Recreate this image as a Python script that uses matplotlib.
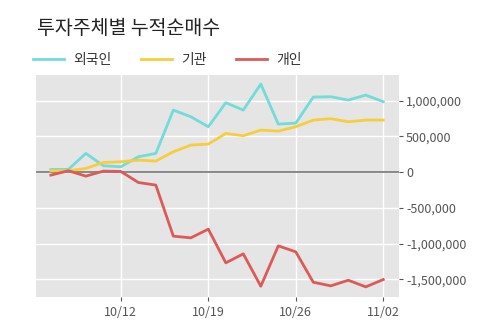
import matplotlib.pyplot as plt
from matplotlib.ticker import FuncFormatter

plt.rcParams['font.family'] = ['Noto Sans CJK KR', 'DejaVu Sans']

# trading days 10/5 ~ 11/2 (10/9 holiday)
dates = ["10/05", "10/06", "10/07", "10/08", "10/12", "10/13", "10/14", "10/15", "10/16",
         "10/19", "10/20", "10/21", "10/22", "10/23", "10/26", "10/27", "10/28", "10/29",
         "10/30", "11/02"]
foreign = [38000, 38000, 262000, 89000, 75000, 215000, 262000, 868000, 775000, 635000,
           971000, 868000, 1232000, 672000, 686000, 1050000, 1055000, 1008000, 1078000, 985000]
institution = [19000, 19000, 51000, 135000, 145000, 168000, 154000, 285000, 378000, 392000,
               541000, 509000, 588000, 574000, 635000, 728000, 747000, 705000, 728000, 728000]
individual = [-42000, 19000, -56000, 14000, 9000, -145000, -182000, -896000, -920000, -798000,
              -1270000, -1144000, -1597000, -1032000, -1116000, -1541000, -1592000, -1513000,
              -1606000, -1503000]
tick_labels = ["10/12", "10/19", "10/26", "11/02"]
y_ticks = [1000000, 500000, 0, -500000, -1000000, -1500000]

x = list(range(len(dates)))

fig = plt.figure(figsize=(5, 3.23), dpi=100)
ax = fig.add_axes([0.072, 0.080, 0.726, 0.688])
ax.set_facecolor("#e5e5e5")

l1, = ax.plot(x, foreign, color="#72dcd8", lw=2, label="외국인", zorder=3)
l2, = ax.plot(x, institution, color="#f8cd3c", lw=2, label="기관", zorder=3)
l3, = ax.plot(x, individual, color="#dc5a58", lw=2, label="개인", zorder=3)
ax.axhline(0, color="#808080", lw=1.3, zorder=2)

ax.set_xlim(-0.85, 19.9)
ax.set_ylim(-1750000, 1360000)
ax.set_xticks([dates.index(t) for t in tick_labels])
ax.set_xticklabels(tick_labels)
ax.set_yticks(y_ticks)
ax.yaxis.set_major_formatter(FuncFormatter(lambda v, p: f"{int(v):,}"))
ax.yaxis.tick_right()
ax.grid(color="white", lw=1)
ax.set_axisbelow(True)
for s in ax.spines.values():
    s.set_visible(False)
ax.tick_params(axis="both", colors="#555555", labelsize=9, length=3, width=0.8)
ax.tick_params(axis="y", pad=2)

fig.text(0.074, 0.913, "투자주체별 누적순매수", fontsize=14, color="#222222", va="center")

# one legend per series so each entry sits at its own x position
for line, lx in [(l1, 33), (l2, 141), (l3, 236)]:
    leg = fig.legend(handles=[line], loc="center left", bbox_to_anchor=(lx / 500, 1 - 60 / 323),
                     frameon=False, fontsize=10, handlelength=2.2, handletextpad=0.72,
                     borderpad=0, borderaxespad=0, labelcolor="#333333")

plt.savefig("out.png", dpi=100)
